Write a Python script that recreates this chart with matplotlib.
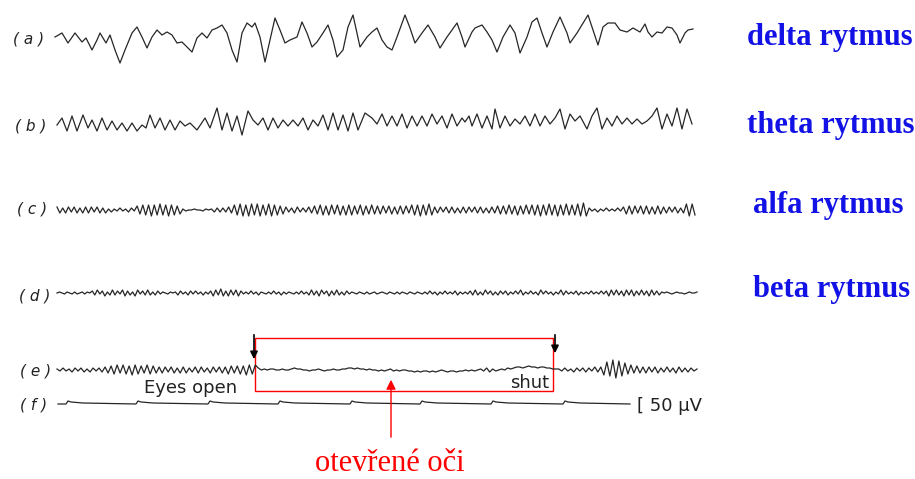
import numpy as np
import matplotlib.pyplot as plt
from matplotlib.patches import Rectangle

# (a) delta: sample positions along the paper and deflection (up = +)
delta_t = [55, 62, 68, 75, 82, 86, 92, 97, 100, 106,
           110, 115, 120, 125, 132, 137, 142, 147, 152, 157,
           162, 167, 172, 177, 182, 185, 192, 197, 202, 207,
           212, 217, 222, 227, 232, 237, 242, 247, 252, 255,
           260, 265, 270, 275, 280, 285, 290, 297, 302, 307,
           312, 317, 323, 328, 333, 337, 343, 348, 353, 360,
           367, 372, 377, 382, 387, 392, 397, 405, 410, 415,
           422, 428, 435, 440, 447, 457, 462, 465, 472, 475,
           482, 487, 492, 497, 503, 510, 515, 520, 527, 532,
           537, 542, 547, 553, 560, 567, 570, 577, 588, 593,
           598, 603, 608, 615, 620, 627, 633, 640, 645, 648,
           652, 657, 662, 667, 672, 677, 680, 685, 688, 693]
delta_v = [0, 4, -6, 4, -5, -1, -13, -3, 4, -6,
           2, -13, -26, -13, 4, 10, 0, -11, 0, 7,
           2, 5, 2, -6, -5, -8, -15, -1, 4, -1,
           7, 9, 12, 4, -13, -25, 4, 14, 10, 14,
           0, -25, -3, 19, 7, -6, -3, 0, 15, 4,
           -10, -5, 4, 12, -3, -20, -13, 10, 22, -10,
           0, 5, 9, -3, -10, -13, 0, 22, 9, -6,
           4, 12, 0, -11, 0, 14, 0, -10, 5, 9,
           12, 5, -3, -15, 0, 12, 4, -16, 0, 15,
           19, 4, -10, 5, 20, 4, -6, 4, 22, 7,
           -8, 10, 14, 14, 7, 5, 9, 5, 13, 5,
           0, 5, 4, 10, 9, 2, -6, 4, 7, 8]

# (b) theta
theta_t = [57, 62, 67, 72, 77, 83, 88, 92, 97, 102,
           107, 112, 117, 122, 127, 132, 137, 142, 146, 150,
           155, 160, 165, 170, 175, 180, 185, 190, 197, 205,
           210, 217, 222, 227, 232, 237, 242, 248, 253, 258,
           263, 268, 273, 278, 283, 288, 293, 298, 303, 308,
           313, 318, 323, 328, 333, 338, 343, 348, 353, 358,
           365, 372, 377, 382, 387, 392, 397, 402, 407, 412,
           417, 422, 427, 432, 437, 442, 447, 452, 457, 462,
           465, 469, 472, 477, 482, 487, 492, 495, 500, 505,
           510, 515, 520, 525, 530, 535, 540, 545, 550, 555,
           560, 565, 570, 575, 580, 587, 592, 597, 602, 607,
           612, 617, 622, 627, 632, 637, 642, 647, 652, 657,
           662, 667, 672, 677, 682, 687, 692]
theta_v = [-2, 5, -8, 7, -8, 8, -5, 3, -8, 5,
           -7, 2, -7, 0, -8, 0, -8, -2, -5, 8,
           -5, 5, -7, 3, -7, 2, -3, 0, -7, 5,
           -5, 15, -7, 10, -8, 7, -12, 12, 3, -2,
           5, -7, 5, -5, 3, -3, 3, -3, 5, -7,
           3, -3, 8, -7, 10, -7, 8, -8, 10, -7,
           10, 5, -1, 9, -3, 7, -3, 9, -5, 7,
           -3, 7, -3, 9, -1, 7, -5, 9, -3, 5,
           1, 7, -3, 9, -5, 7, -6, 14, -5, 7,
           -3, 4, -1, 7, -3, 9, -3, 7, -1, 5,
           14, -6, 9, 2, 7, -6, 7, 15, -6, 5,
           -3, 7, -1, 5, -1, 4, -1, 2, 7, 15,
           -6, 9, -3, 15, -6, 14, -1]

# (c) alpha: successive peaks / troughs, evenly spaced along the trace
alpha_v = [3, -3, 2, -3, 3, -2, 3, -3, 2, -3, 3, -3, 3, -2, 3, -3, 2, -3,
           1, -2, 1, -1, 2, -1, 1, -2, 2, -1,
           4, -4, 5, -5, 5, -6, 5, -5, 6, -5, 5, -6, 5, -5, 4, -4,
           1, -1, 0, 0, 1, 0, 0, -1, 1, 0,
           1, -2, 2, -2, 2, -2, 3, -3,
           5, -5, 6, -6, 5, -6, 6, -5, 6, -6, 5, -5, 6, -6, 5, -5, 4, -4,
           3, -2, 2, -3, 3, -2, 2, -2, 3, -3,
           4, -4, 5, -5, 4, -5, 5, -4, 5, -5, 4, -5, 5, -5, 4, -4, 5, -5, 4, -4, 5, -4,
           4, -4, 4, -3, 4, -4, 3, -4, 4, -4, 4, -3,
           5, -5, 5, -6, 5, -5, 6, -5,
           3, -3, 3, -2, 3, -3, 3, -3, 2, -3, 3, -3, 3, -2, 3, -3, 3, -3, 2, -3, 3, -3,
           4, -4, 4, -4, 5, -4, 4, -5, 4, -4, 5, -4,
           5, -5, 5, -6, 5, -5, 6, -5, 5, -6, 5, -5, 6, -5, 5, -5,
           6, -6, 7, -6,
           2, -1, 1, -2, 1, -1, 2, -1, 1, -1, 2, -1,
           3, -4, 4, -4, 4, -3, 4, -4, 4, -4, 3, -4, 4, -4,
           3, -3, 3, -2, 3, -3, 2, -3,
           6, -6, 6, -5]

# (d) beta
beta_v = [0, 1, 0, -1, 1, 0, -1, 1, -1, 0, 1, -1, 1, 0,
          2, -2, 3, -1, 2, -3, 1, -2, 3, -2, 2, -1, 3, -3, 2, -2, 1, -3, 3, -1, 2, -2, 3, -2, 1, -2, 2,
          -1, 1, 0, -1, 1, 0,
          1, -2, 2, -1, 1, -2, 2, -1, 2, -1, 1, -2, 1, -1, 2,
          -3, 3, -2, 4, -3, 2, -3, 3, -2, 3, -3, 2, -1,
          1, -1, 2, -1, 1, -2, 1, 0, -1, 1, -1, 2, -1, 1, -2, 1, -1, 1, 0, -1, 1, -1, 2, -1, 1,
          -2, 3, -2, 2, -3, 3, -1, 2, -3, 2, -2, 3, -2, 1, -2, 2, -1,
          1, 0, -1, 1, 0, -1, 1, -1, 0, 1, -1, 0, 1, 0, -1, 1, 0, -1, 1, -1, 1, 0, -1, 1, 0, -1, 1, 0, -1, 1,
          -1, 2, -1, 1, -2, 1, -1, 2, -1, 1, -1, 2, -2, 1, -1, 1, -1,
          2, -2, 3, -2, 1, -2, 3, -1, 2, -2, 1, -2, 2, -1, 2, -2,
          1, -1, 2, -1, 3, -2, 1, -1, 2, -1, 1, -2, 3, -1, 2, -1, 1, -2, 1, -1, 3, -2, 2, -1, 1, -1, 2, -2, 1, -1,
          1, -1, 2, -1, 1, -1, 2, -1,
          2, -3, 3, -2, 3, -2, 2, -3, 3, -2, 3, -3, 2, -2, 3, -2, 2, -3, 3, -2, 2, -2, 1,
          0, 1, 0, -1, 0, 1, 0, 0, -1, 0, 1, 0, 0, 1]

# (e) eyes open / shut
eyes_v = [1, -1, 2, -1, 1, -2, 2, -1, 2, -2, 1, -2, 2, -1, 2, -2,
          3, -3, 4, -4, 5, -3, 5, -4, 4, -5, 5, -4, 4, -3, 5, -4, 4,
          -3, 3, -3, 3, -2, 3, -3, 2, -3, 3, -3, 2, -2, 3, -3, 3, -2, 2, -3, 3, -2,
          3, -3, 3, -4, 4, -3, 4, -4, 4, -5, 5, -4, 5,
          2, 0, 1, 0, 1, 1, 0, 0, 1, 0, 0, 1, 2, 1, 1, 0,
          0, -1, 0, 0, 1, 0, -1, 0, 0, 1, 0, 0, 1,
          1, 2, 2, 1, 2, 1, 1, 0, 1, 0, 0,
          -1, 0, -1, 0, 1, -1, 0, -1, 0, 0, -1,
          -1, -2, -1, -2, -1, -1, -2, -1, -2, -1, 0, -1, -2, -1, -1, -2, -1, -1, 0, -1,
          0, -1, 0, 1, -1, 2, -2, 1, -1, 0, 1, 0, 2, 1,
          2, 3, 3, 2, 3, 4, 3, 3, 2, 3, 3, 2, 2, 1, 1,
          1, -1, 2, -1, 1, -2, 2, -1, 2, -2, 2, -1, 3, -2, 3,
          -5, 8, -6, 10, -8, 9, -6, 7, -4, 5,
          -3, 4, -3, 3, -3, 3, -2, 3, -3, 2, -2, 3, -2, 2, -3, 3, -2, 2, -2, 2, -1, 1]

# (f) time-marker trace
marker_t = [58, 66, 68, 71, 83, 136, 138, 141, 153, 208, 210, 213, 225, 278,
            280, 283, 295, 350, 352, 355, 367, 420, 422, 425, 437, 491,
            493, 496, 508, 563, 565, 568, 580, 630]
marker_v = [0, 0, 3, 2, 1, 0, 3, 2, 1, 0, 3, 2, 1, 0,
            3, 2, 1, 0, 3, 2, 1, 0, 3, 2, 1, 0,
            3, 2, 1, 0, 3, 2, 1, 0]

trace_labels = ['( a )', '( b )', '( c )', '( d )', '( e )', '( f )']
rhythm_names = ['delta rytmus', 'theta rytmus', 'alfa rytmus', 'beta rytmus']

fig = plt.figure(figsize=(9.15, 4.79), dpi=100)
ax = fig.add_axes([0, 0, 1, 1])
ax.set_xlim(0, 915)
ax.set_ylim(479, 0)
ax.axis('off')

ink = '#262626'
lw = 0.9
base = [37, 123, 210, 293, 370, 404]

ax.plot(delta_t, base[0] - np.array(delta_v), color=ink, lw=lw)
ax.plot(theta_t, base[1] - np.array(theta_v), color=ink, lw=lw)
ax.plot(np.linspace(57, 695, len(alpha_v)), base[2] - np.array(alpha_v), color=ink, lw=lw)
ax.plot(np.linspace(57, 697, len(beta_v)), base[3] - np.array(beta_v), color=ink, lw=lw)
ax.plot(np.linspace(57, 697, len(eyes_v)), base[4] - np.array(eyes_v), color=ink, lw=lw)
ax.plot(marker_t, base[5] - np.array(marker_v), color=ink, lw=lw)

label_x = [13, 15, 17, 19, 20, 20]
label_y = [39, 126, 209, 296, 371, 405]
for lx, ly, s in zip(label_x, label_y, trace_labels):
    ax.text(lx, ly, s, fontsize=11, style='italic', color='#222222',
            ha='left', va='center', family='DejaVu Sans')

name_x = [830, 831, 828, 832]
name_y = [45, 133, 213, 297]
for nx, ny, s in zip(name_x, name_y, rhythm_names):
    ax.text(nx, ny, s, fontsize=22, fontweight='bold', color='#1212e6',
            ha='center', va='baseline', family='Liberation Serif')

ax.text(191, 393, 'Eyes open', fontsize=13, color='#222222', ha='center', va='baseline')
ax.text(530, 388, 'shut', fontsize=13, color='#222222', ha='center', va='baseline')
ax.text(637, 411, '[ 50 µV', fontsize=13, color='#222222', ha='left', va='baseline')

# eyes-open / eyes-shut marks
for xa, ya in [(254, 362), (555, 356)]:
    ax.annotate('', xy=(xa, ya), xytext=(xa, 332),
                arrowprops=dict(arrowstyle='-|>', color='black', lw=1.2, mutation_scale=11))

ax.add_patch(Rectangle((255, 338), 298, 53, fill=False, edgecolor='red', lw=1.0))
ax.annotate('', xy=(391, 377), xytext=(391, 440),
            arrowprops=dict(arrowstyle='-|>', color='red', lw=1.0, mutation_scale=14))
ax.text(390, 471, 'otevřené oči', fontsize=22, color='red', ha='center', va='baseline',
        family='Liberation Serif')

fig.savefig('out.png', dpi=100)
